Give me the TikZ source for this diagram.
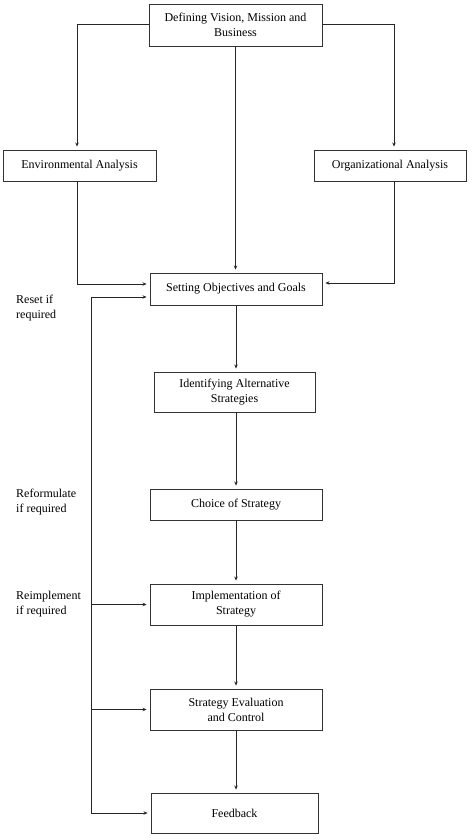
\documentclass[tikz,border=0pt]{standalone}
\usepackage{fontspec}
\setmainfont{Liberation Serif}
\usetikzlibrary{arrows.meta,calc}
\begin{document}
\begin{tikzpicture}[x=1pt,y=-1pt,
  box/.style={draw=black!80, line width=0.9pt, align=center, inner sep=0pt, font=\fontsize{12}{15}\selectfont},
  conn/.style={draw=black!85, line width=0.8pt},
  arr/.style={conn, -{Stealth[length=4pt,width=3.5pt]}, shorten >=3pt},
  lbl/.style={align=left, anchor=north west, inner sep=0pt, font=\fontsize{12}{14.5}\selectfont}]
\useasboundingbox (0,0) rectangle (473,840);
\fill[white] (0,0) rectangle (473,840);
\node[box, minimum width=173, minimum height=42] (vision) at (235.5,25) {Defining Vision, Mission and\\Business};
\node[box, minimum width=153, minimum height=31] (env) at (79.5,165.5) {Environmental Analysis};
\node[box, minimum width=152, minimum height=31] (org) at (390,165.5) {Organizational Analysis};
\node[box, minimum width=172, minimum height=32] (setting) at (236,289) {Setting Objectives and Goals};
\node[box, minimum width=161, minimum height=40] (ident) at (234.5,392) {Identifying Alternative\\Strategies};
\node[box, minimum width=172, minimum height=31] (choice) at (236,504.5) {Choice of Strategy};
\node[box, minimum width=172, minimum height=41] (impl) at (236,604.5) {Implementation of\\Strategy};
\node[box, minimum width=172, minimum height=41] (eval) at (236,709.5) {Strategy Evaluation\\and Control};
\node[box, minimum width=167, minimum height=40] (feedback) at (234.5,813) {Feedback};

\node[lbl] (reset) at (16,295) {Reset if\\required};
\node[lbl] (reform) at (16,489) {Reformulate\\if required};
\node[lbl] (reimpl) at (16,591) {Reimplement\\if required};

% top branches
\draw[arr] ($(vision.west)+(0,-1)$) -| ([xshift=-2.5pt]env.north);
\draw[arr] ($(vision.east)+(0,-1)$) -| ([xshift=4pt]org.north);
\draw[arr] (vision.south) -- (vision.south |- setting.north);
\draw[arr] ([xshift=-2.5pt]env.south) |- ($(setting.west)+(0,-5)$);
\draw[arr] ([xshift=4pt]org.south) |- ($(setting.east)+(0,-6)$);

% main chain
\draw[arr] (setting.south) -- (setting.south |- ident.north);
\draw[arr] (ident.south -| setting.south) -- (setting.south |- choice.north);
\draw[arr] (choice.south) -- (choice.south |- impl.north);
\draw[arr] (impl.south) -- (impl.south |- eval.north);
\draw[arr] (eval.south) -- (eval.south |- feedback.north);

% feedback loop
\coordinate (lb) at (91,813);
\coordinate (lt) at (91,297);
\draw[conn] (lb) -- (lt);
\draw[arr] (lt) -- ($(setting.west)+(0,8)$);
\draw[arr] (impl.west -| lb) -- (impl.west);
\draw[arr] (eval.west -| lb) -- (eval.west);
\draw[arr] (lb) -- (feedback.west);
\end{tikzpicture}
\end{document}
